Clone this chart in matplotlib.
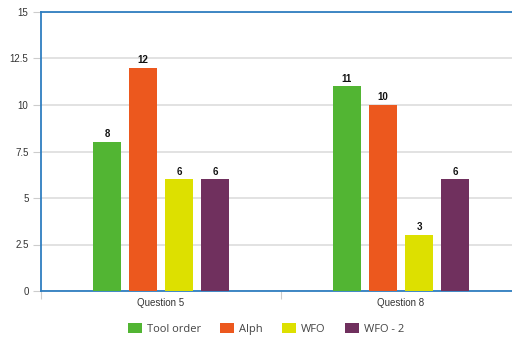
import matplotlib.pyplot as plt
import numpy as np

# survey results per question
questions = ["Question 5", "Question 8"]
series = ["Tool order", "Alph", "WFO", "WFO - 2"]
tool_order = [8, 11]
alph = [12, 10]
wfo = [6, 3]
wfo_2 = [6, 6]
colors = ["#52b533", "#ec581e", "#dde000", "#70305e"]

plt.rcParams["font.family"] = ["Liberation Sans", "DejaVu Sans"]

fig = plt.figure(figsize=(5.12, 3.38), dpi=100)
# axes run past the right edge of the canvas
ax = fig.add_axes((41 / 512, 1 - 291 / 338, 480 / 512, 279 / 338))

x = np.arange(len(questions))
width = 0.117
offsets = [-0.225, -0.075, 0.075, 0.225]
for vals, name, col, off in zip([tool_order, alph, wfo, wfo_2], series, colors, offsets):
    bars = ax.bar(x + off, vals, width, color=col, label=name, zorder=3)
    for b, v in zip(bars, vals):
        ax.text(b.get_x() + b.get_width() / 2, v + 0.15, str(v), ha="center", va="bottom",
                fontsize=7, fontweight="bold", color="#111111")

ax.set_xlim(-0.5, 1.5)
ax.set_ylim(0, 15)
ax.set_yticks([0, 2.5, 5, 7.5, 10, 12.5, 15])
ax.set_yticklabels(["0", "2.5", "5", "7.5", "10", "12.5", "15"])
ax.yaxis.grid(True, color="#dddddd", linewidth=1.2, zorder=0)
ax.tick_params(axis="y", length=6, color="#cccccc", labelsize=7, labelcolor="#333333", pad=3)

# category labels centred, ticks on group boundaries
ax.set_xticks([-0.5, 0.5])
ax.set_xticklabels(["", ""])
ax.set_xticks(x, minor=True)
ax.set_xticklabels(questions, minor=True)
ax.tick_params(axis="x", which="major", length=6, color="#cccccc", direction="out")
ax.tick_params(axis="x", which="minor", length=0, labelsize=7, labelcolor="#333333", pad=5)

for side in ["left", "top", "bottom"]:
    ax.spines[side].set_color("#2f7ec0")
    ax.spines[side].set_linewidth(1.3)
ax.spines["right"].set_visible(False)

fig.legend(loc="center", bbox_to_anchor=(266 / 512, 1 - 329 / 338), ncol=4, frameon=False,
           prop={"family": "Open Sans", "size": 8}, labelcolor="#444444",
           handlelength=1.26, handleheight=0.9, columnspacing=1.75,
           handletextpad=0.45, borderpad=0)

fig.savefig("out.png", dpi=100)
